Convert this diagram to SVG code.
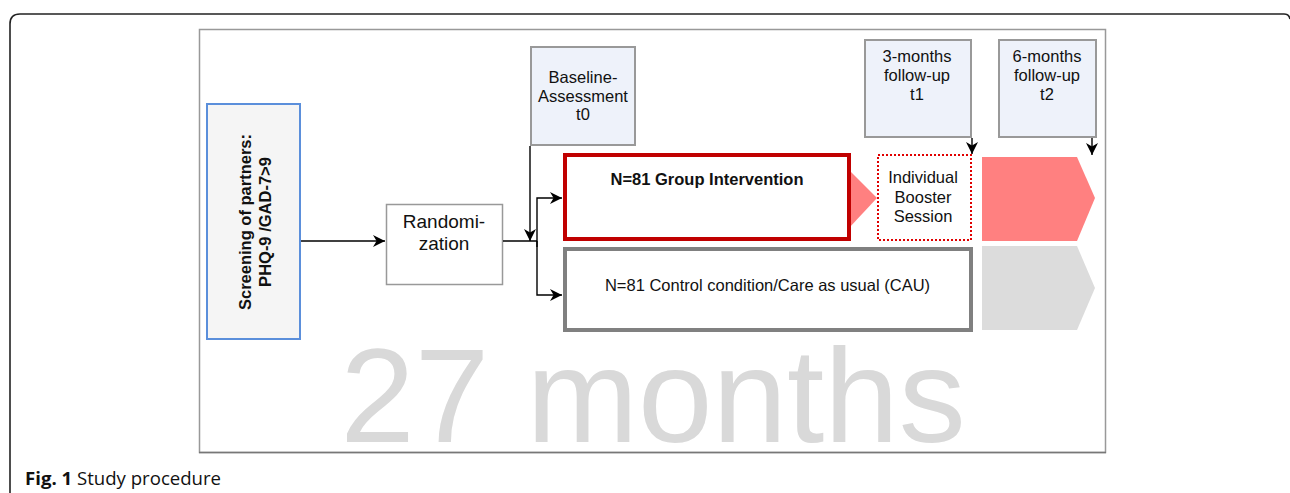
<svg xmlns="http://www.w3.org/2000/svg" width="1290" height="493" viewBox="0 0 1290 493">
<style>
text{font-family:"Liberation Sans",Arial,sans-serif;fill:#111;}
.t16{font-size:16.5px;text-anchor:middle;}
.bold{font-weight:bold;}
.tbox{fill:#EEF2FA;stroke:#999;stroke-width:2;}
.conn{fill:none;stroke:#000;stroke-width:1.4;}
</style>
<defs>
<marker id="arr" markerUnits="userSpaceOnUse" markerWidth="12" markerHeight="12" refX="10" refY="5" orient="auto" viewBox="0 0 10 10">
<path d="M0,0 L10,5 L0,10 L3,5 Z" fill="#000"/>
</marker>
</defs>
<rect width="1290" height="493" fill="#fff"/>
<path d="M10,493 V24 Q10,14 20,14 H1284 Q1289,14 1290,19" fill="none" stroke="#222" stroke-width="1.6"/>
<rect x="199.5" y="29.5" width="906" height="423" fill="#fff" stroke="#999" stroke-width="1.5"/>
<line x1="199" y1="452.5" x2="1106" y2="452.5" stroke="#777" stroke-width="1.5"/>
<text x="653" y="442" style="font-size:134px;text-anchor:middle;fill:#D9D9D9;">27 months</text>

<g id="screening">
<rect x="207" y="104" width="93" height="235" fill="#F5F5F5" stroke="#5B8FDB" stroke-width="2"/>
<text class="t16 bold" transform="translate(251,222) rotate(-90)">Screening of partners:</text>
<text class="t16 bold" transform="translate(271,222) rotate(-90)">PHQ-9 /GAD-7&gt;9</text>
</g>
<g id="randomization">
<rect x="386.5" y="204.5" width="116" height="80" fill="#fff" stroke="#999" stroke-width="1.5"/>
<text style="font-size:19px;text-anchor:middle;" x="444" y="228">Randomi-</text>
<text style="font-size:19px;text-anchor:middle;" x="444" y="250">zation</text>
</g>
<g id="baseline">
<rect class="tbox" x="531" y="47" width="104" height="98" stroke="#B3B3B3"/>
<text class="t16" x="583" y="83">Baseline-</text>
<text class="t16" x="583" y="101.5">Assessment</text>
<text class="t16" x="583" y="120">t0</text>
</g>
<g id="followup3">
<rect class="tbox" x="865" y="40" width="106" height="97"/>
<text class="t16" x="917" y="62">3-months</text>
<text class="t16" x="917" y="81">follow-up</text>
<text class="t16" x="917" y="100">t1</text>
</g>
<g id="followup6">
<rect class="tbox" x="999" y="40" width="97" height="97"/>
<text class="t16" x="1047" y="62">6-months</text>
<text class="t16" x="1047" y="81">follow-up</text>
<text class="t16" x="1047" y="100">t2</text>
</g>
<g id="group-arrow">
<polygon points="849,170 877,198 849,228" fill="#FF8080"/>
</g>
<g id="group">
<rect x="565" y="155" width="284" height="84" fill="#fff" stroke="#C00000" stroke-width="4"/>
<text class="t16 bold" x="707" y="185">N=81 Group Intervention</text>
</g>
<g id="control">
<rect x="565" y="249" width="406" height="81" fill="#fff" stroke="#808080" stroke-width="4"/>
<text class="t16" x="767.5" y="291">N=81 Control condition/Care as usual (CAU)</text>
</g>
<g id="booster">
<rect x="878" y="155" width="93" height="85" fill="#fff" stroke="#E00000" stroke-width="2" stroke-dasharray="2,2"/>
<text class="t16" x="923" y="183">Individual</text>
<text class="t16" x="923" y="202.5">Booster</text>
<text class="t16" x="923" y="221.5">Session</text>
</g>
<g id="red-phase">
<path d="M982,157 H1077 L1095,198 L1077,241 H982 Z" fill="#FF8080"/>
</g>
<g id="grey-phase">
<path d="M982,246 H1077 L1095,288 L1077,330 H982 Z" fill="#DCDCDC"/>
</g>
<g id="connectors">
<path class="conn" d="M301,241 H385" marker-end="url(#arr)"/>
<path class="conn" d="M503,241 H537"/>
<path class="conn" d="M537,247 V198 H562" marker-end="url(#arr)"/>
<path class="conn" d="M537,241 V295 H562" marker-end="url(#arr)"/>
<path class="conn" d="M530,146 V241" marker-end="url(#arr)"/>
<path class="conn" d="M972,138 V154" marker-end="url(#arr)"/>
<path class="conn" d="M1092,138 V155" marker-end="url(#arr)"/>
</g>
<text x="25" y="485" style="font-family:'Open Sans',sans-serif;font-size:18.6px;"><tspan font-weight="bold">Fig. 1</tspan> Study procedure</text>
</svg>
